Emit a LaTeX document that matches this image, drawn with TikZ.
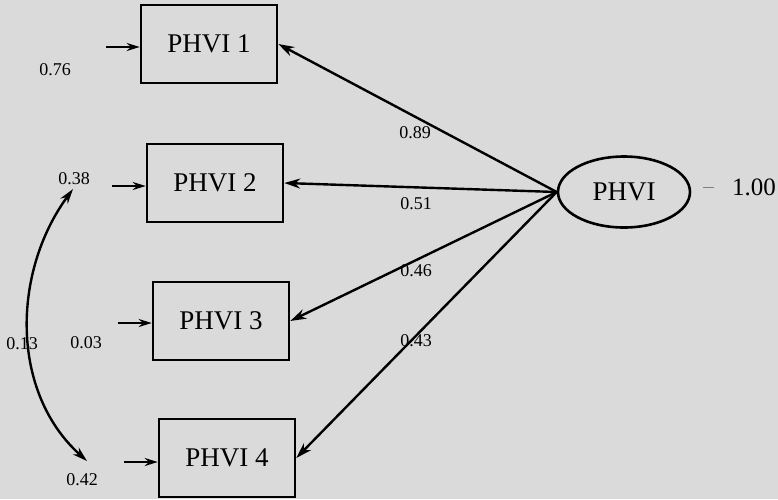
\documentclass[tikz,border=0pt]{standalone}
\usepackage{fontspec}
\setmainfont{Liberation Serif}
\usetikzlibrary{arrows.meta,shapes.geometric}
\definecolor{bgcol}{RGB}{218,218,218}
\begin{document}
\begin{tikzpicture}[x=1pt,y=-1pt,
  obs/.style={draw,line width=2.6pt,minimum width=136pt,minimum height=78pt,inner sep=0pt,font=\fontsize{27}{27}\selectfont},
  lat/.style={draw,ellipse,line width=2.6pt,minimum width=132pt,minimum height=71pt,inner sep=0pt,font=\fontsize{27}{27}\selectfont},
  num/.style={inner sep=0pt,font=\fontsize{18}{18}\selectfont},
  conn/.style={line width=2.4pt,-{Stealth[length=16pt,width=10pt]}},
  err/.style={line width=2.4pt,-{Stealth[length=13pt,width=8pt]}}]
\fill[bgcol] (0,0) rectangle (778,499);
\useasboundingbox (0,0) rectangle (778,499);
\node[obs] (p1) at (209,44) {PHVI 1};
\node[obs] (p2) at (215,183) {PHVI 2};
\node[obs] (p3) at (221,321) {PHVI 3};
\node[obs] (p4) at (227,458) {PHVI 4};
\node[lat] (f) at (624,192) {PHVI};
\node[inner sep=0pt,font=\fontsize{25}{25}\selectfont] (v) at (754,187) {1.00};
\coordinate (t1) at (703,187);
\coordinate (t2) at (714,187);
\draw[line width=0.6pt,gray] (t1) -- (t2);
\draw[conn] (f.west) -- (p1.east);
\draw[conn] (f.west) -- (p2.east);
\draw[conn] (f.west) -- (p3.east);
\draw[conn] (f.west) -- (p4.east);
\node[num] (l1) at (415,133) {0.89};
\node[num] (l2) at (416,204) {0.51};
\node[num] (l3) at (416,271) {0.46};
\node[num] (l4) at (416,341) {0.43};
\coordinate (e1) at (106,47);
\coordinate (e2) at (112,186);
\coordinate (e3) at (118,323);
\coordinate (e4) at (124,462);
\draw[err] (e1) -- (p1.west |- e1);
\draw[err] (e2) -- (p2.west |- e2);
\draw[err] (e3) -- (p3.west |- e3);
\draw[err] (e4) -- (p4.west |- e4);
\node[num] (d1) at (55,70) {0.76};
\node[num] (d2) at (74,179) {0.38};
\node[num] (d3) at (86,343) {0.03};
\node[num] (d4) at (82,480) {0.42};
\node[num] (c) at (22,344) {0.13};
\coordinate (ca) at (73,189);
\coordinate (cb) at (87,461);
\draw[line width=2.4pt,{Stealth[length=15pt,width=9pt]}-{Stealth[length=15pt,width=9pt]}] (ca) .. controls (12,272) and (10,392) .. (cb);
\end{tikzpicture}
\end{document}
